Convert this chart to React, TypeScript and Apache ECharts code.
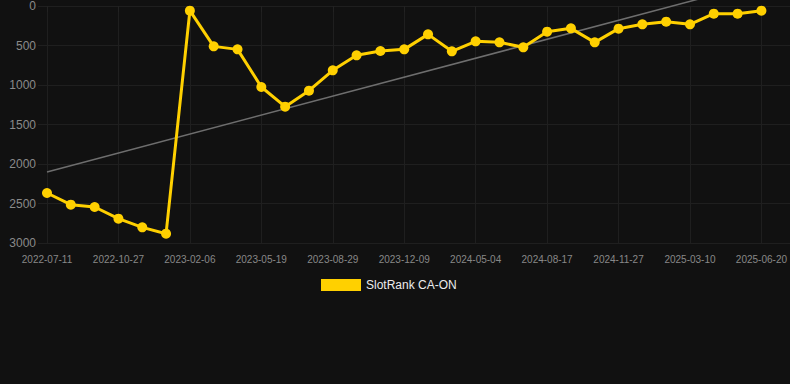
import React, { useEffect, useRef } from "react";
import * as echarts from "echarts";

const dates = [
  "2022-07-11", "2022-08-16", "2022-09-21", "2022-10-27", "2022-12-01", "2023-01-03",
  "2023-02-06", "2023-03-12", "2023-04-15", "2023-05-19", "2023-06-22", "2023-07-26",
  "2023-08-29", "2023-10-01", "2023-11-05", "2023-12-09", "2024-01-22", "2024-03-13",
  "2024-05-04", "2024-06-08", "2024-07-13", "2024-08-17", "2024-09-22", "2024-10-25",
  "2024-11-27", "2024-12-31", "2025-02-04", "2025-03-10", "2025-04-13", "2025-05-17",
  "2025-06-20",
];

const rankValues = [
  2367, 2515, 2544, 2692, 2802, 2882,
  59, 511, 549, 1025, 1274, 1072,
  814, 624, 570, 549, 359, 574,
  447, 460, 523, 325, 283, 460,
  287, 232, 198, 232, 97, 97,
  59,
];

const trendStart = 2101;
const trendEnd = -299;

const yTicks = { min: 0, max: 3000, interval: 500 };

export default function App() {
  const ref = useRef<HTMLDivElement>(null);

  useEffect(() => {
    document.body.style.margin = "0";
    document.body.style.background = "#111111";
    const chart = echarts.init(ref.current!, undefined, { renderer: "svg" });
    chart.setOption({
      animation: false,
      backgroundColor: "#111111",
      textStyle: { fontFamily: "Arial, 'Liberation Sans', sans-serif" },
      grid: [
        { left: 38, right: 0, top: 6, bottom: 141, containLabel: false },
        { left: 47, right: 28, top: 6, bottom: 141, containLabel: false },
      ],
      legend: {
        bottom: 88,
        left: 316,
        itemWidth: 40,
        itemHeight: 12,
        itemGap: 10,
        textStyle: { color: "#ececec", fontSize: 12 },
        data: [{ name: "SlotRank CA-ON", icon: "rect" }],
      },
      xAxis: [
        {
          type: "value",
          gridIndex: 0,
          min: 0,
          max: 1,
          show: false,
        },
        {
          type: "category",
          gridIndex: 1,
          data: dates,
          boundaryGap: false,
          axisLine: { show: false },
          axisTick: { show: true, interval: 2, length: 6, lineStyle: { color: "#222222" } },
          axisLabel: { interval: 2, color: "#888888", fontSize: 10, margin: 11 },
          splitLine: { show: true, interval: 2, lineStyle: { color: "#1f1f1f" } },
        },
      ],
      yAxis: [
        {
          type: "value",
          gridIndex: 0,
          inverse: true,
          min: yTicks.min,
          max: yTicks.max,
          interval: yTicks.interval,
          axisLine: { show: false },
          axisTick: { show: false },
          axisLabel: {
            color: "#8a8a8a",
            fontSize: 12,
            margin: 2,
            formatter: (v: number) => String(v),
          },
          splitLine: { show: true, lineStyle: { color: "#1f1f1f" } },
        },
        {
          type: "value",
          gridIndex: 1,
          inverse: true,
          min: yTicks.min,
          max: yTicks.max,
          interval: yTicks.interval,
          show: false,
          splitLine: { show: false },
        },
      ],
      series: [
        {
          name: "Trend",
          type: "line",
          xAxisIndex: 1,
          yAxisIndex: 1,
          data: [
            [0, trendStart],
            [dates.length - 1, trendEnd],
          ],
          clip: false,
          symbol: "none",
          lineStyle: { color: "#6e6e6e", width: 1.5 },
          silent: true,
          z: 1,
        },
        {
          name: "SlotRank CA-ON",
          type: "line",
          xAxisIndex: 1,
          yAxisIndex: 1,
          data: rankValues,
          symbol: "circle",
          symbolSize: 10,
          itemStyle: { color: "#ffd000" },
          lineStyle: { color: "#ffd000", width: 3 },
          z: 2,
        },
      ],
    });
    return () => chart.dispose();
  }, []);

  return <div ref={ref} style={{ width: 790, height: 384 }} />;
}
